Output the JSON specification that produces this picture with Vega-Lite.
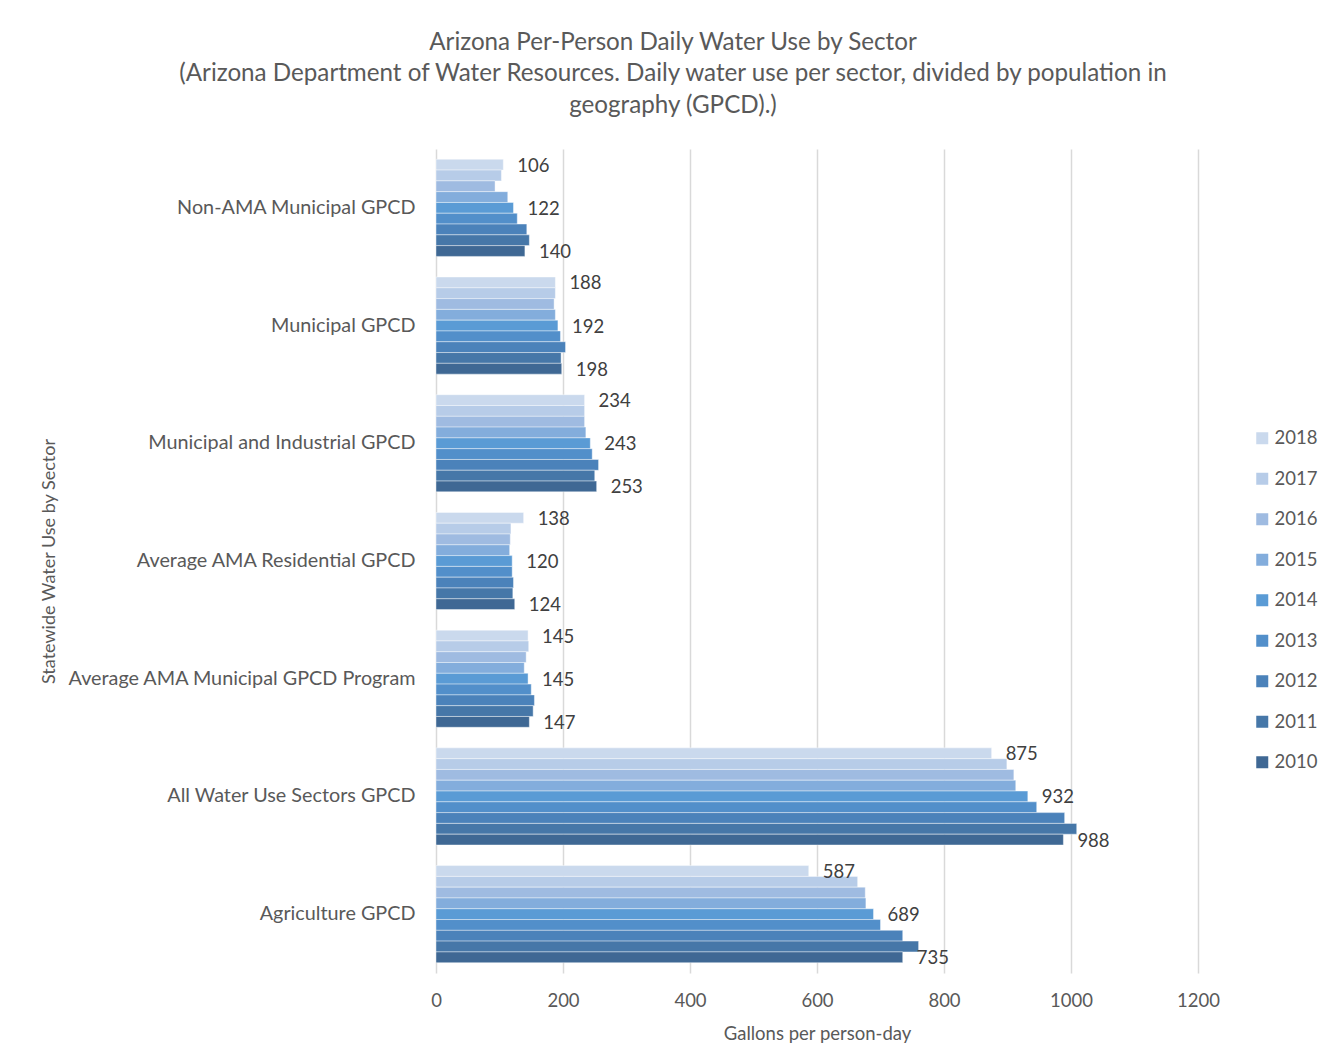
{
  "$schema": "https://vega.github.io/schema/vega-lite/v6.json",
  "width": 762,
  "height": 824,
  "autosize": {"type": "none"},
  "padding": {"left": 436, "top": 149, "right": 146, "bottom": 71},
  "background": "white",
  "config": {"view": {"stroke": null}},
  "title": {
    "text": ["Arizona Per-Person Daily Water Use by Sector", "(Arizona Department of Water Resources. Daily water use per sector, divided by population in", "geography (GPCD).)"],
    "anchor": "middle",
    "frame": "group",
    "dx": -144,
    "offset": 31,
    "font": "Lato",
    "fontSize": 24.2,
    "fontWeight": "normal",
    "lineHeight": 31.5,
    "color": "#595959"
  },
  "data": {
    "values": [
      {"sector": "Non-AMA Municipal GPCD", "year": "2018", "gpcd": 106},
      {"sector": "Non-AMA Municipal GPCD", "year": "2017", "gpcd": 103},
      {"sector": "Non-AMA Municipal GPCD", "year": "2016", "gpcd": 93},
      {"sector": "Non-AMA Municipal GPCD", "year": "2015", "gpcd": 113},
      {"sector": "Non-AMA Municipal GPCD", "year": "2014", "gpcd": 122},
      {"sector": "Non-AMA Municipal GPCD", "year": "2013", "gpcd": 128},
      {"sector": "Non-AMA Municipal GPCD", "year": "2012", "gpcd": 143},
      {"sector": "Non-AMA Municipal GPCD", "year": "2011", "gpcd": 147},
      {"sector": "Non-AMA Municipal GPCD", "year": "2010", "gpcd": 140},
      {"sector": "Municipal GPCD", "year": "2018", "gpcd": 188},
      {"sector": "Municipal GPCD", "year": "2017", "gpcd": 188},
      {"sector": "Municipal GPCD", "year": "2016", "gpcd": 186},
      {"sector": "Municipal GPCD", "year": "2015", "gpcd": 188},
      {"sector": "Municipal GPCD", "year": "2014", "gpcd": 192},
      {"sector": "Municipal GPCD", "year": "2013", "gpcd": 196},
      {"sector": "Municipal GPCD", "year": "2012", "gpcd": 204},
      {"sector": "Municipal GPCD", "year": "2011", "gpcd": 197},
      {"sector": "Municipal GPCD", "year": "2010", "gpcd": 198},
      {"sector": "Municipal and Industrial GPCD", "year": "2018", "gpcd": 234},
      {"sector": "Municipal and Industrial GPCD", "year": "2017", "gpcd": 234},
      {"sector": "Municipal and Industrial GPCD", "year": "2016", "gpcd": 234},
      {"sector": "Municipal and Industrial GPCD", "year": "2015", "gpcd": 236},
      {"sector": "Municipal and Industrial GPCD", "year": "2014", "gpcd": 243},
      {"sector": "Municipal and Industrial GPCD", "year": "2013", "gpcd": 246},
      {"sector": "Municipal and Industrial GPCD", "year": "2012", "gpcd": 256},
      {"sector": "Municipal and Industrial GPCD", "year": "2011", "gpcd": 250},
      {"sector": "Municipal and Industrial GPCD", "year": "2010", "gpcd": 253},
      {"sector": "Average AMA Residential GPCD", "year": "2018", "gpcd": 138},
      {"sector": "Average AMA Residential GPCD", "year": "2017", "gpcd": 118},
      {"sector": "Average AMA Residential GPCD", "year": "2016", "gpcd": 117},
      {"sector": "Average AMA Residential GPCD", "year": "2015", "gpcd": 116},
      {"sector": "Average AMA Residential GPCD", "year": "2014", "gpcd": 120},
      {"sector": "Average AMA Residential GPCD", "year": "2013", "gpcd": 120},
      {"sector": "Average AMA Residential GPCD", "year": "2012", "gpcd": 122},
      {"sector": "Average AMA Residential GPCD", "year": "2011", "gpcd": 121},
      {"sector": "Average AMA Residential GPCD", "year": "2010", "gpcd": 124},
      {"sector": "Average AMA Municipal GPCD Program", "year": "2018", "gpcd": 145},
      {"sector": "Average AMA Municipal GPCD Program", "year": "2017", "gpcd": 146},
      {"sector": "Average AMA Municipal GPCD Program", "year": "2016", "gpcd": 142},
      {"sector": "Average AMA Municipal GPCD Program", "year": "2015", "gpcd": 139},
      {"sector": "Average AMA Municipal GPCD Program", "year": "2014", "gpcd": 145},
      {"sector": "Average AMA Municipal GPCD Program", "year": "2013", "gpcd": 150},
      {"sector": "Average AMA Municipal GPCD Program", "year": "2012", "gpcd": 155},
      {"sector": "Average AMA Municipal GPCD Program", "year": "2011", "gpcd": 153},
      {"sector": "Average AMA Municipal GPCD Program", "year": "2010", "gpcd": 147},
      {"sector": "All Water Use Sectors GPCD", "year": "2018", "gpcd": 875},
      {"sector": "All Water Use Sectors GPCD", "year": "2017", "gpcd": 899},
      {"sector": "All Water Use Sectors GPCD", "year": "2016", "gpcd": 910},
      {"sector": "All Water Use Sectors GPCD", "year": "2015", "gpcd": 913},
      {"sector": "All Water Use Sectors GPCD", "year": "2014", "gpcd": 932},
      {"sector": "All Water Use Sectors GPCD", "year": "2013", "gpcd": 946},
      {"sector": "All Water Use Sectors GPCD", "year": "2012", "gpcd": 990},
      {"sector": "All Water Use Sectors GPCD", "year": "2011", "gpcd": 1009},
      {"sector": "All Water Use Sectors GPCD", "year": "2010", "gpcd": 988},
      {"sector": "Agriculture GPCD", "year": "2018", "gpcd": 587},
      {"sector": "Agriculture GPCD", "year": "2017", "gpcd": 664},
      {"sector": "Agriculture GPCD", "year": "2016", "gpcd": 676},
      {"sector": "Agriculture GPCD", "year": "2015", "gpcd": 677},
      {"sector": "Agriculture GPCD", "year": "2014", "gpcd": 689},
      {"sector": "Agriculture GPCD", "year": "2013", "gpcd": 700},
      {"sector": "Agriculture GPCD", "year": "2012", "gpcd": 735},
      {"sector": "Agriculture GPCD", "year": "2011", "gpcd": 760},
      {"sector": "Agriculture GPCD", "year": "2010", "gpcd": 735}
    ]
  },
  "encoding": {
    "y": {
      "field": "sector",
      "type": "nominal",
      "scale": {
        "domain": ["Non-AMA Municipal GPCD", "Municipal GPCD", "Municipal and Industrial GPCD", "Average AMA Residential GPCD", "Average AMA Municipal GPCD Program", "All Water Use Sectors GPCD", "Agriculture GPCD"],
        "paddingInner": 0.175,
        "paddingOuter": 0.0875
      },
      "axis": {
        "title": "Statewide Water Use by Sector",
        "titleFont": "Lato",
        "titleFontSize": 18,
        "titleFontWeight": "normal",
        "titleColor": "#595959",
        "titleX": -387,
        "titleY": 412,
        "titleAngle": -90,
        "titleAlign": "center",
        "titleBaseline": "middle",
        "labelFont": "Lato",
        "labelFontSize": 19.8,
        "labelColor": "#595959",
        "labelPadding": 21,
        "labelLimit": 400,
        "ticks": false,
        "domain": false,
        "grid": false
      }
    },
    "x": {
      "field": "gpcd",
      "type": "quantitative",
      "scale": {"domain": [0, 1200], "nice": false},
      "axis": {
        "title": "Gallons per person-day",
        "titleFont": "Lato",
        "titleFontSize": 18.5,
        "titleFontWeight": "normal",
        "titleColor": "#595959",
        "titlePadding": 15,
        "labelFont": "Lato",
        "labelFontSize": 18.5,
        "labelColor": "#595959",
        "labelPadding": 18,
        "labelFlush": false,
        "format": "d",
        "values": [0, 200, 400, 600, 800, 1000, 1200],
        "ticks": false,
        "domain": false,
        "grid": true,
        "gridColor": "#D9D9D9",
        "gridWidth": 1.5
      }
    },
    "yOffset": {
      "field": "year",
      "type": "nominal",
      "scale": {"domain": ["2018", "2017", "2016", "2015", "2014", "2013", "2012", "2011", "2010"], "paddingInner": 0, "paddingOuter": 0}
    }
  },
  "layer": [
    {
      "mark": {"type": "bar", "stroke": "white", "strokeWidth": 0.6, "strokeOpacity": 0.7},
      "encoding": {
        "color": {
          "field": "year",
          "type": "nominal",
          "scale": {
            "domain": ["2018", "2017", "2016", "2015", "2014", "2013", "2012", "2011", "2010"],
            "range": ["#CAD9ED", "#B7CCE8", "#9FBBE1", "#83ADDC", "#5A9BD5", "#528FCA", "#4B82BA", "#4677A8", "#3F6894"]
          },
          "legend": {
            "title": null,
            "orient": "none",
            "legendX": 817,
            "legendY": 280,
            "symbolType": "square",
            "symbolSize": 144,
            "symbolStrokeWidth": 0,
            "labelFont": "Lato",
            "labelFontSize": 18.5,
            "labelColor": "#595959",
            "labelOffset": 3,
            "rowPadding": 21.5
          }
        }
      }
    },
    {
      "transform": [{"filter": {"field": "year", "oneOf": ["2018", "2014", "2010"]}}],
      "mark": {"type": "text", "align": "left", "baseline": "middle", "dx": 14, "dy": 1, "font": "Lato", "fontSize": 18.5, "color": "#404040"},
      "encoding": {
        "text": {"field": "gpcd", "type": "quantitative"}
      }
    }
  ]
}
